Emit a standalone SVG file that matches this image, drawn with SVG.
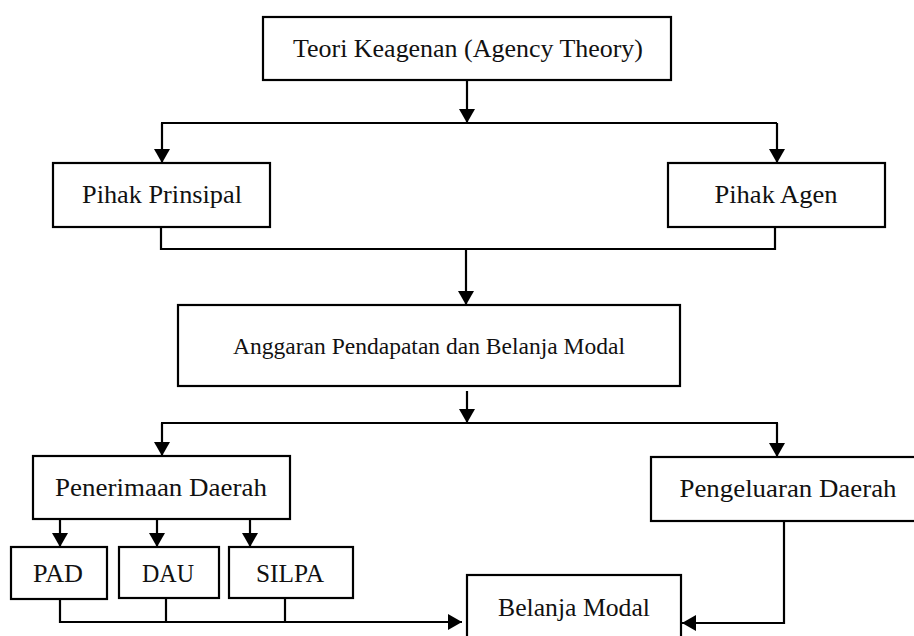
<svg xmlns="http://www.w3.org/2000/svg" width="914" height="636" viewBox="0 0 914 636">
<style>
.box{fill:#fff;stroke:#000;stroke-width:2.2}
.t{font-family:"Liberation Serif","Times New Roman",serif;font-size:25px;fill:#111;text-anchor:middle}
.c{fill:none;stroke:#000;stroke-width:2.2}
</style>
<defs>
<marker id="ah" markerUnits="userSpaceOnUse" markerWidth="15" markerHeight="16" refX="14" refY="8" orient="auto" viewBox="0 0 15 16">
<path d="M0,0 L14,8 L0,16 z" fill="#000"/>
</marker>
</defs>
<rect width="914" height="636" fill="#fff"/>
<g id="connectors">
<path class="c" d="M467,80 V123" marker-end="url(#ah)"/>
<path class="c" d="M161,123 H777"/>
<path class="c" d="M162,123 V163" marker-end="url(#ah)"/>
<path class="c" d="M777,123 V163" marker-end="url(#ah)"/>
<path class="c" d="M161,227 V249 H775 V227"/>
<path class="c" d="M466,249 V305" marker-end="url(#ah)"/>
<path class="c" d="M467,391 V423" marker-end="url(#ah)"/>
<path class="c" d="M161,423 H778"/>
<path class="c" d="M162,423 V456" marker-end="url(#ah)"/>
<path class="c" d="M777,423 V457" marker-end="url(#ah)"/>
<path class="c" d="M60,519 V547" marker-end="url(#ah)"/>
<path class="c" d="M157,519 V547" marker-end="url(#ah)"/>
<path class="c" d="M250,519 V547" marker-end="url(#ah)"/>
<path class="c" d="M60,599 V622 H462" marker-end="url(#ah)"/>
<path class="c" d="M166,599 V622"/>
<path class="c" d="M285,598 V622"/>
<path class="c" d="M784,521 V623 H682" marker-end="url(#ah)"/>
</g>
<g id="teori"><rect class="box" x="263" y="17" width="408" height="63"/><text class="t" x="468" y="57" textLength="350" lengthAdjust="spacingAndGlyphs">Teori Keagenan (Agency Theory)</text></g>
<g id="prinsipal"><rect class="box" x="53" y="163" width="217" height="64"/><text class="t" x="162" y="203" textLength="160" lengthAdjust="spacingAndGlyphs">Pihak Prinsipal</text></g>
<g id="agen"><rect class="box" x="668" y="163" width="217" height="64"/><text class="t" x="776" y="203" textLength="123" lengthAdjust="spacingAndGlyphs">Pihak Agen</text></g>
<g id="anggaran"><rect class="box" x="178" y="305" width="502" height="81"/><text class="t" x="429" y="354" style="font-size:24px" textLength="392" lengthAdjust="spacingAndGlyphs">Anggaran Pendapatan dan Belanja Modal</text></g>
<g id="penerimaan"><rect class="box" x="33" y="456" width="257" height="63"/><text class="t" x="161" y="496" textLength="212" lengthAdjust="spacingAndGlyphs">Penerimaan Daerah</text></g>
<g id="pengeluaran"><rect class="box" x="651" y="457" width="265" height="64"/><text class="t" x="788" y="497" textLength="217" lengthAdjust="spacingAndGlyphs">Pengeluaran Daerah</text></g>
<g id="pad"><rect class="box" x="11" y="547" width="96" height="52"/><text class="t" x="58" y="582" textLength="50" lengthAdjust="spacingAndGlyphs">PAD</text></g>
<g id="dau"><rect class="box" x="119" y="547" width="100" height="51"/><text class="t" x="168" y="582" textLength="52" lengthAdjust="spacingAndGlyphs">DAU</text></g>
<g id="silpa"><rect class="box" x="229" y="547" width="124" height="51"/><text class="t" x="290" y="582" textLength="68" lengthAdjust="spacingAndGlyphs">SILPA</text></g>
<g id="belanja"><rect class="box" x="467" y="575" width="214" height="66"/><text class="t" x="574" y="616" textLength="152" lengthAdjust="spacingAndGlyphs">Belanja Modal</text></g>
</svg>
